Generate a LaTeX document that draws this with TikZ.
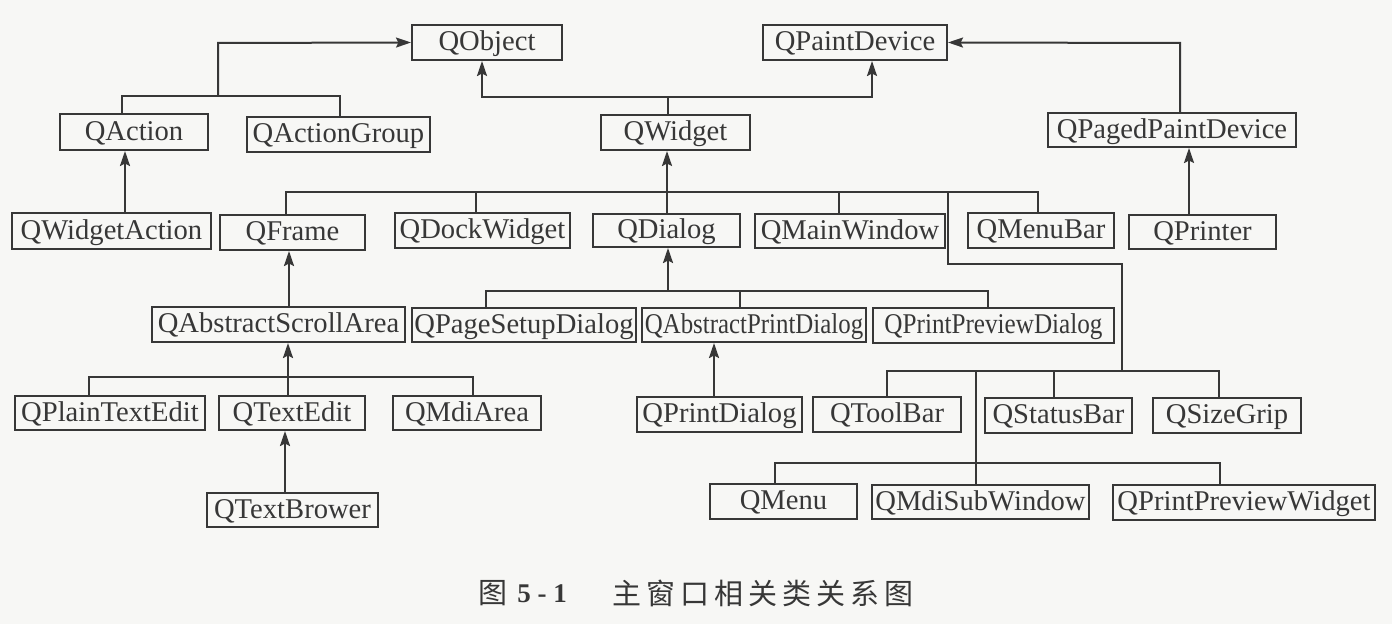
\documentclass[tikz,border=0pt]{standalone}
\usepackage{fontspec}
\usepackage{graphicx}
\setmainfont{Liberation Serif}
\newfontfamily\cjk{Noto Sans CJK SC}
\usetikzlibrary{arrows.meta}
\definecolor{ink}{RGB}{55,55,55}
\definecolor{paper}{RGB}{247,247,245}
\tikzset{
  box/.style={draw=ink, line width=1pt, text=ink, inner xsep=1pt, inner ysep=0pt,
    text height=11pt, text depth=2.8pt,
    minimum height=17.5pt, font=\fontsize{14.3pt}{17pt}\selectfont, anchor=center},
  bw/.style={minimum width=#1*0.5pt},
  bh/.style={minimum height=#1*0.5pt},
  ln/.style={draw=ink, line width=1pt},
  arr/.style={ln, -{Stealth[length=7.5pt,width=5pt,inset=1.2pt]}},
  arrb/.style={ln, {Stealth[length=7.5pt,width=5pt,inset=1.2pt]}-{Stealth[length=7.5pt,width=5pt,inset=1.2pt]}}
}
\begin{document}
\begin{tikzpicture}[x=0.5pt,y=-0.5pt]
\fill[paper] (0,0) rectangle (1392,624);
\useasboundingbox (0,0) rectangle (1392,624);

% boxes
\node[box,bw=150,bh=35] (QObject) at (487,42.5) {QObject};
\node[box,bw=184,bh=35] (QPaintDevice) at (855,42.5) {QPaintDevice};
\node[box,bw=148,bh=36] (QAction) at (134,132) {QAction};
\node[box,bw=183,bh=35] (QActionGroup) at (338.5,134.5) {QActionGroup};
\node[box,bw=149,bh=35] (QWidget) at (675.5,132.5) {QWidget};
\node[box,bw=248,bh=34] (QPagedPaintDevice) at (1172,130) {QPagedPaintDevice};
\node[box,bw=199,bh=36] (QWidgetAction) at (111.5,231) {QWidgetAction};
\node[box,bw=145,bh=35] (QFrame) at (292.5,232.5) {QFrame};
\node[box,bw=175,bh=35] (QDockWidget) at (482.5,230.5) {QDockWidget};
\node[box,bw=147,bh=33] (QDialog) at (666.5,230.5) {QDialog};
\node[box,bw=190,bh=34] (QMainWindow) at (850,231) {QMainWindow};
\node[box,bw=146,bh=35] (QMenuBar) at (1041,230.5) {QMenuBar};
\node[box,bw=147,bh=34] (QPrinter) at (1202.5,232) {QPrinter};
\node[box,bw=253,bh=35] (QAbstractScrollArea) at (278.5,324.5) {QAbstractScrollArea};
\node[box,bw=224,bh=34] (QPageSetupDialog) at (524,325) {QPageSetupDialog};
\node[box,bw=224,bh=34] (QAbstractPrintDialog) at (754,325) {\scalebox{0.87}[1]{QAbstractPrintDialog}};
\node[box,bw=241,bh=35] (QPrintPreviewDialog) at (993.5,325.5) {\scalebox{0.88}[1]{QPrintPreviewDialog}};
\node[box,bw=190,bh=34] (QPlainTextEdit) at (110,413) {QPlainTextEdit};
\node[box,bw=146,bh=34] (QTextEdit) at (292,413) {QTextEdit};
\node[box,bw=148,bh=34] (QMdiArea) at (467,413) {QMdiArea};
\node[box,bw=165,bh=35] (QPrintDialog) at (719.5,414.5) {QPrintDialog};
\node[box,bw=148,bh=35] (QToolBar) at (887,414.5) {QToolBar};
\node[box,bw=147,bh=35] (QStatusBar) at (1058.5,415.5) {QStatusBar};
\node[box,bw=148,bh=35] (QSizeGrip) at (1227,415.5) {QSizeGrip};
\node[box,bw=171,bh=34] (QTextBrower) at (292.5,510) {QTextBrower};
\node[box,bw=147,bh=35] (QMenu) at (783.5,501.5) {QMenu};
\node[box,bw=217,bh=34] (QMdiSubWindow) at (980.5,502) {QMdiSubWindow};
\node[box,bw=262,bh=35] (QPrintPreviewWidget) at (1244,502.5) {QPrintPreviewWidget};

% QAction / QActionGroup -> QObject
\draw[ln] (QAction.north -| 122,0) -- (122,96) -- (340,96) -- (QActionGroup.north -| 340,0);
\draw[arr] (218,96) -- (218,43) -- (QObject.west);
\draw[arr] (QWidgetAction.north -| 125,0) -- (QAction.south -| 125,0);

% QWidget -> QObject, QPaintDevice
\draw[ln] (QWidget.north -| 668,0) -- (668,97);
\draw[arrb] (QObject.south -| 482,0) -- (482,97) -- (872,97) -- (QPaintDevice.south -| 872,0);

% QPagedPaintDevice -> QPaintDevice
\draw[arr] (QPagedPaintDevice.north -| 1180,0) -- (1180,43) -- (QPaintDevice.east);
\draw[arr] (QPrinter.north -| 1189,0) -- (QPagedPaintDevice.south -| 1189,0);

% main widget bus
\draw[ln] (QFrame.north -| 286,0) -- (286,192) -- (1038,192) -- (QMenuBar.north -| 1038,0);
\draw[ln] (QDockWidget.north -| 476,0) -- (476,192);
\draw[ln] (QMainWindow.north -| 839,0) -- (839,192);
\draw[arr] (QDialog.north -| 667,0) -- (QWidget.south -| 667,0);
\draw[ln] (948,192) -- (948,264) -- (1122,264) -- (1122,371);

% QFrame subtree
\draw[arr] (QAbstractScrollArea.north -| 289,0) -- (QFrame.south -| 289,0);
\draw[ln] (QPlainTextEdit.north -| 89,0) -- (89,377) -- (473,377) -- (QMdiArea.north -| 473,0);
\draw[arr] (QTextEdit.north -| 288,0) -- (QAbstractScrollArea.south -| 288,0);
\draw[arr] (QTextBrower.north -| 285,0) -- (QTextEdit.south -| 285,0);

% QDialog subtree
\draw[ln] (QPageSetupDialog.north -| 486,0) -- (486,291) -- (988,291) -- (QPrintPreviewDialog.north -| 988,0);
\draw[ln] (QAbstractPrintDialog.north -| 740,0) -- (740,291);
\draw[arr] (668,291) -- (QDialog.south -| 668,0);
\draw[arr] (QPrintDialog.north -| 714,0) -- (QAbstractPrintDialog.south -| 714,0);

% lower widget groups
\draw[ln] (QToolBar.north -| 887,0) -- (887,371) -- (1219,371) -- (QSizeGrip.north -| 1219,0);
\draw[ln] (QStatusBar.north -| 1054,0) -- (1054,371);
\draw[ln] (976,371) -- (QMdiSubWindow.north -| 976,0);
\draw[ln] (QMenu.north -| 775,0) -- (775,463) -- (1220,463) -- (QPrintPreviewWidget.north -| 1220,0);

% caption
\node[text=ink, font=\cjk\fontsize{14.5pt}{16pt}\selectfont] (capA) at (493,593) {图};
\node[text=ink, font=\bfseries\fontsize{13.5pt}{16pt}\selectfont] (capB) at (542,594) {5 - 1};
\node[text=ink, font=\cjk\fontsize{14.5pt}{16pt}\selectfont\addfontfeature{LetterSpace=17}] (capC) at (763,593) {主窗口相关类关系图};
\end{tikzpicture}
\end{document}
